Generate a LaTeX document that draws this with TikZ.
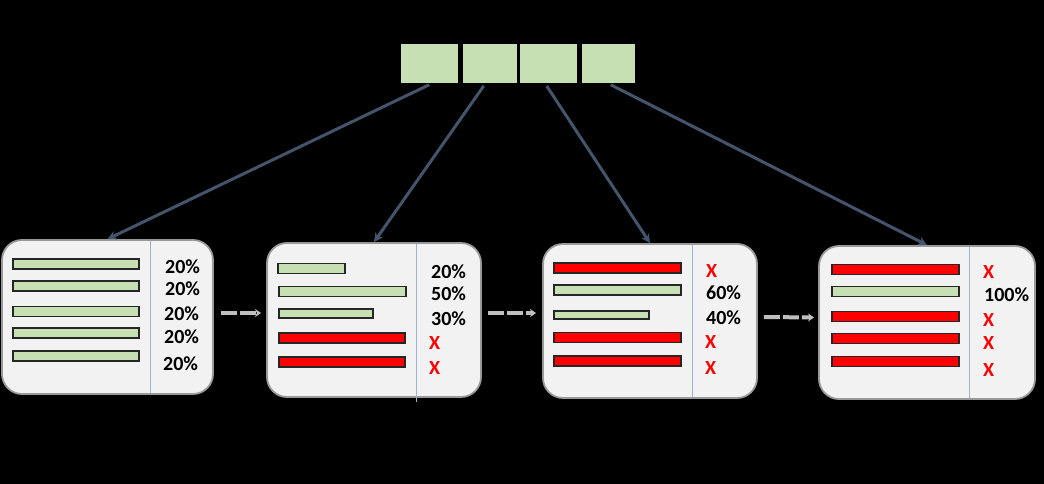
\documentclass[tikz,border=0pt]{standalone}
\usepackage{fontspec}
\setmainfont{Carlito}
\usetikzlibrary{arrows.meta,calc}
\definecolor{cellgreen}{HTML}{C6E0B4}
\definecolor{barred}{HTML}{FF0000}
\definecolor{panelfill}{HTML}{F2F2F2}
\definecolor{linkcol}{HTML}{44546A}
\definecolor{flowgray}{HTML}{BFBFBF}
\definecolor{divcol}{HTML}{9DB3CC}
\tikzset{
  cell/.style={draw=black, line width=0.8pt, fill=cellgreen, inner sep=0pt, minimum height=40pt},
  panel/.style={draw=gray!80, line width=1.8pt, fill=panelfill, rounded corners=20pt, inner sep=0pt},
  gbar/.style={draw=black!85, line width=1.5pt, fill=cellgreen, inner sep=0pt, anchor=west, minimum height=10pt},
  rbar/.style={draw=black!85, line width=1.5pt, fill=barred, inner sep=0pt, anchor=west, minimum height=10pt},
  pct/.style={font=\fontsize{20}{20}\selectfont\bfseries, text=black, anchor=west, inner sep=0pt},
  xmark/.style={font=\fontsize{20}{20}\selectfont\bfseries, text=barred, anchor=west, inner sep=0pt},
  link/.style={draw=linkcol, line width=3pt, -{Stealth[length=9pt,width=9pt]}, shorten <=3pt},
  flow/.style={draw=flowgray, line width=4pt, dash pattern=on 16pt off 3pt, -{Stealth[length=6pt,width=8pt]}},
  divider/.style={draw=divcol, line width=1pt}
}
\begin{document}
\begin{tikzpicture}[x=1pt,y=-1pt]
\fill[black] (0,0) rectangle (1044,484);
\useasboundingbox (0,0) rectangle (1044,484);
% top cells
\node[cell, minimum width=58pt] (c1) at (429,63) {};
\node[cell, minimum width=55pt] (c2) at (489.5,63) {};
\node[cell, minimum width=58pt] (c3) at (548,63) {};
\node[cell, minimum width=54pt] (c4) at (608,63) {};
% panels
\node[panel, minimum width=211pt, minimum height=154pt] (p1) at (107.5,317) {};
\node[panel, minimum width=214pt, minimum height=154pt] (p2) at (374,320) {};
\node[panel, minimum width=214pt, minimum height=154pt] (p3) at (650,321) {};
\node[panel, minimum width=216pt, minimum height=153pt] (p4) at (927,322.5) {};
% dividers
\coordinate (d1t) at (150,241); \coordinate (d1b) at (150,393);
\coordinate (d2t) at (416,244); \coordinate (d2b) at (416,402);
\coordinate (d3t) at (692,245); \coordinate (d3b) at (692,397);
\coordinate (d4t) at (969,247); \coordinate (d4b) at (969,398);
\draw[divider] (d1t) -- (d1b);
\draw[divider] (d2t) -- (d2b);
\draw[divider] (d3t) -- (d3b);
\draw[divider] (d4t) -- (d4b);
% panel 1
\node[gbar, minimum width=126pt] (a1) at (12,264) {};
\node[gbar, minimum width=126pt] (a2) at (12,286) {};
\node[gbar, minimum width=126pt] (a3) at (12,311.5) {};
\node[gbar, minimum width=126pt] (a4) at (12,333) {};
\node[gbar, minimum width=126pt] (a5) at (12,356) {};
\node[pct] (la1) at (165,267) {20\%};
\node[pct] (la2) at (165,289) {20\%};
\node[pct] (la3) at (164,314) {20\%};
\node[pct] (la4) at (164,337) {20\%};
\node[pct] (la5) at (163,364) {20\%};
% panel 2
\node[gbar, minimum width=67pt] (b1) at (277,268.5) {};
\node[gbar, minimum width=127pt] (b2) at (278,291.5) {};
\node[gbar, minimum width=94pt, minimum height=9pt] (b3) at (278,313.5) {};
\node[rbar, minimum width=126pt] (b4) at (278,338) {};
\node[rbar, minimum width=126pt] (b5) at (278,362) {};
\node[pct] (lb1) at (431,272) {20\%};
\node[pct] (lb2) at (431,294) {50\%};
\node[pct] (lb3) at (431,319) {30\%};
\node[xmark] (lb4) at (429,343) {X};
\node[xmark] (lb5) at (429,368) {X};
% panel 3
\node[rbar, minimum width=127pt] (e1) at (553,268) {};
\node[gbar, minimum width=127pt] (e2) at (553,290) {};
\node[gbar, minimum width=95pt, minimum height=8pt] (e3) at (553,315) {};
\node[rbar, minimum width=127pt] (e4) at (553,337.5) {};
\node[rbar, minimum width=127pt] (e5) at (553,361) {};
\node[xmark] (le1) at (706,271) {X};
\node[pct] (le2) at (706,293) {60\%};
\node[pct] (le3) at (706,318) {40\%};
\node[xmark] (le4) at (705,342) {X};
\node[xmark] (le5) at (705,368) {X};
% panel 4
\node[rbar, minimum width=127pt] (f1) at (831,269.5) {};
\node[gbar, minimum width=127pt] (f2) at (831,291.5) {};
\node[rbar, minimum width=127pt] (f3) at (831,316.5) {};
\node[rbar, minimum width=127pt] (f4) at (831,338.5) {};
\node[rbar, minimum width=127pt] (f5) at (831,361.5) {};
\node[xmark] (lf1) at (983,272) {X};
\node[pct] (lf2) at (984,295) {100\%};
\node[xmark] (lf3) at (983,320) {X};
\node[xmark] (lf4) at (983,343) {X};
\node[xmark] (lf5) at (983,370) {X};
% links from cells to panels
\draw[link] ([xshift=3pt]c1.south) -- (p1.north);
\draw[link] ([xshift=-4pt]c2.south) -- (p2.north);
\draw[link] ([xshift=-3pt]c3.south) -- (p3.north);
\draw[link] (c4.south) -- (p4.north);
% flow arrows between panels
\draw[flow] ($(p1.east)+(7,-4)$) -- ($(p2.west)+(-5,-7)$);
\draw[flow] ($(p2.east)+(6,-7)$) -- ($(p3.west)+(-6,-8)$);
\draw[flow] ($(p3.east)+(6,-4)$) -- ($(p4.west)+(-4,-5)$);
\end{tikzpicture}
\end{document}
